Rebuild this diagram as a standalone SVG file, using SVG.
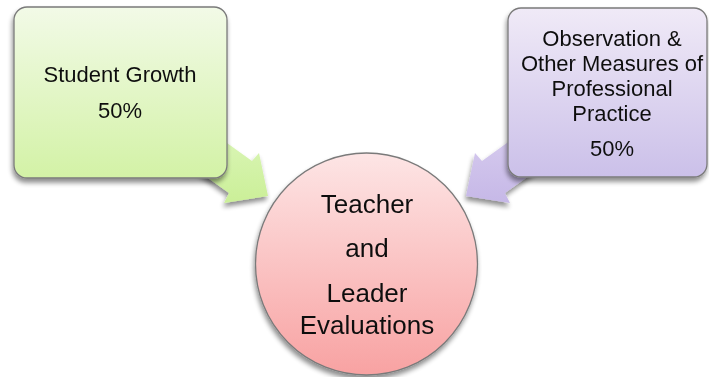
<svg xmlns="http://www.w3.org/2000/svg" width="709" height="377" viewBox="0 0 709 377">
  <defs>
    <linearGradient id="gGreen" x1="0" y1="0" x2="0" y2="1">
      <stop offset="0" stop-color="#f2fae7"/>
      <stop offset="1" stop-color="#d3f2a6"/>
    </linearGradient>
    <linearGradient id="gGreenArrow" x1="0" y1="0" x2="0" y2="1">
      <stop offset="0" stop-color="#dcf6ba"/>
      <stop offset="1" stop-color="#cbef98"/>
    </linearGradient>
    <linearGradient id="gPurple" x1="0" y1="0" x2="0" y2="1">
      <stop offset="0" stop-color="#f0eaf7"/>
      <stop offset="1" stop-color="#cbc0e9"/>
    </linearGradient>
    <linearGradient id="gPurpleArrow" x1="0" y1="0" x2="0" y2="1">
      <stop offset="0" stop-color="#d8cdef"/>
      <stop offset="1" stop-color="#c6b8e7"/>
    </linearGradient>
    <linearGradient id="gPink" x1="0" y1="0" x2="0" y2="1">
      <stop offset="0" stop-color="#fde5e5"/>
      <stop offset="1" stop-color="#f8a2a2"/>
    </linearGradient>
    <filter id="shadow" x="-20%" y="-20%" width="140%" height="140%">
      <feGaussianBlur in="SourceAlpha" stdDeviation="2.5"/>
      <feOffset dx="-1" dy="4" result="b"/>
      <feComponentTransfer><feFuncA type="linear" slope="0.45"/></feComponentTransfer>
      <feMerge><feMergeNode/><feMergeNode in="SourceGraphic"/></feMerge>
    </filter>
  </defs>
  <style>
    .box { stroke: #7a7a7a; stroke-width: 1.3; }
    .lbl { font-family: "Liberation Sans", Arial, sans-serif; fill: #111; text-anchor: middle; }
    .s22 { font-size: 22px; }
    .s26 { font-size: 26px; }
  </style>

  <!-- connectors: block arrows into the centre circle -->
  <g id="connectors" filter="url(#shadow)">
    <polygon points="202,125 252,161 259,153 268,196 224,203 229,193 187,163" fill="url(#gGreenArrow)"/>
    <polygon points="532,125 482,161 475,153 466,196 510,203 505,193 547,163" fill="url(#gPurpleArrow)"/>
  </g>

  <g id="student-growth" filter="url(#shadow)">
    <rect class="box" x="14" y="7" width="213" height="171" rx="13" fill="url(#gGreen)"/>
    <text class="lbl s22" x="120" y="82">Student Growth</text>
    <text class="lbl s22" x="120" y="118">50%</text>
  </g>

  <g id="observation" filter="url(#shadow)">
    <rect class="box" x="508" y="8" width="199" height="169" rx="13" fill="url(#gPurple)"/>
    <text class="lbl s22" x="612" y="46">Observation &amp;</text>
    <text class="lbl s22" x="612" y="71">Other Measures of</text>
    <text class="lbl s22" x="612" y="96">Professional</text>
    <text class="lbl s22" x="612" y="121">Practice</text>
    <text class="lbl s22" x="612" y="156">50%</text>
  </g>

  <g id="evaluations" filter="url(#shadow)">
    <circle class="box" cx="366.5" cy="264" r="111" fill="url(#gPink)"/>
    <text class="lbl s26" x="367" y="213">Teacher</text>
    <text class="lbl s26" x="367" y="257">and</text>
    <text class="lbl s26" x="367" y="302">Leader</text>
    <text class="lbl s26" x="367" y="334">Evaluations</text>
  </g>
</svg>
